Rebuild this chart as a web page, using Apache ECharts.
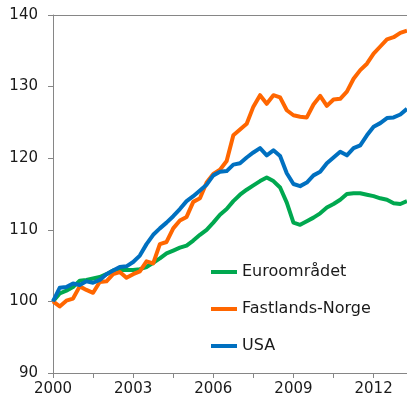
<!DOCTYPE html>
<html>
<head>
<meta charset="utf-8">
<script src="https://cdn.jsdelivr.net/npm/echarts@6/dist/echarts.min.js"></script>
<style>html,body{margin:0;padding:0;background:#fff}#c{width:407px;height:404px}</style>
</head>
<body>
<div id="c"></div>
<script>
const quarters = [
 '2000K1','2000K2','2000K3','2000K4','2001K1','2001K2','2001K3','2001K4',
 '2002K1','2002K2','2002K3','2002K4','2003K1','2003K2','2003K3','2003K4',
 '2004K1','2004K2','2004K3','2004K4','2005K1','2005K2','2005K3','2005K4',
 '2006K1','2006K2','2006K3','2006K4','2007K1','2007K2','2007K3','2007K4',
 '2008K1','2008K2','2008K3','2008K4','2009K1','2009K2','2009K3','2009K4',
 '2010K1','2010K2','2010K3','2010K4','2011K1','2011K2','2011K3','2011K4',
 '2012K1','2012K2','2012K3','2012K4','2013K1','2013K2'
];
const seriesNames = ['Euroområdet', 'Fastlands-Norge', 'USA'];
const euro = [100.0,101.1,101.5,102.0,102.9,103.0,103.2,103.4,103.8,104.3,104.4,104.4,104.4,104.5,104.8,105.4,
 106.0,106.7,107.1,107.5,107.8,108.5,109.3,110.0,111.0,112.1,112.9,114.0,114.9,115.6,116.2,116.8,
 117.3,116.8,115.9,113.8,111.0,110.7,111.2,111.7,112.3,113.1,113.6,114.2,115.0,115.1,115.1,114.9,
 114.7,114.4,114.2,113.7,113.6,114.0];
const norge = [100.0,99.3,100.1,100.4,102.1,101.6,101.2,102.7,102.8,103.8,104.1,103.3,103.8,104.2,105.6,105.3,
 108.0,108.3,110.2,111.3,111.8,113.9,114.4,116.6,117.8,118.4,119.6,123.2,124.0,124.8,127.2,128.8,
 127.6,128.8,128.5,126.7,126.0,125.8,125.7,127.5,128.7,127.3,128.2,128.3,129.3,131.1,132.3,133.2,
 134.6,135.6,136.6,136.9,137.5,137.8];
const usa = [100.0,101.9,102.0,102.5,102.3,102.8,102.6,103.0,103.8,104.3,104.8,104.9,105.5,106.4,108.0,109.3,
 110.2,111.0,111.9,112.9,114.0,114.7,115.5,116.3,117.6,118.1,118.2,119.1,119.3,120.1,120.8,121.4,
 120.4,121.1,120.3,117.9,116.4,116.1,116.6,117.6,118.1,119.3,120.1,120.9,120.4,121.4,121.8,123.2,
 124.4,124.9,125.6,125.7,126.1,126.9];
const yTicks = [90, 100, 110, 120, 130, 140];

const colors = ['#00A84F', '#FF6600', '#0070C0'];
const chart = echarts.init(document.getElementById('c'));
const axisGray = '#868686';
const font = 'DejaVu Sans';
chart.setOption({
  animation: false,
  textStyle: { fontFamily: font },
  grid: { left: 53, top: 15, right: 0, bottom: 31, containLabel: false },
  legend: {
    orient: 'vertical', left: 211, top: 262, padding: 0,
    itemWidth: 26, itemHeight: 4, itemGap: 17,
    icon: 'rect',
    textStyle: { fontFamily: font, fontSize: 16, color: '#1a1a1a', lineHeight: 20 },
    data: seriesNames
  },
  xAxis: [{
    type: 'category', data: quarters, boundaryGap: false,
    axisLine: { lineStyle: { color: axisGray, width: 1 } },
    axisTick: { interval: 5, length: 5, lineStyle: { color: axisGray } },
    axisLabel: { interval: 11, margin: 9, fontSize: 15, color: '#1a1a1a', fontFamily: font,
      formatter: v => v.slice(0, 4) },
    splitLine: { show: false }
  }, {
    type: 'category', data: quarters, boundaryGap: false, position: 'top',
    axisLine: { lineStyle: { color: axisGray, width: 1 } },
    axisTick: { show: false }, axisLabel: { show: false }, splitLine: { show: false }
  }],
  yAxis: {
    type: 'value', min: yTicks[0], max: yTicks[yTicks.length - 1], interval: 10,
    axisLine: { show: true, lineStyle: { color: axisGray, width: 1 } },
    axisTick: { show: true, length: 5, lineStyle: { color: axisGray } },
    axisLabel: { margin: 15, fontSize: 15, color: '#1a1a1a', fontFamily: font },
    splitLine: { show: false }
  },
  series: [euro, norge, usa].map((d, k) => ({
    name: seriesNames[k], type: 'line', data: d, showSymbol: false, symbol: 'none',
    lineStyle: { width: 4, color: colors[k], join: 'round' },
    itemStyle: { color: colors[k] }
  }))
});
</script>
</body>
</html>
